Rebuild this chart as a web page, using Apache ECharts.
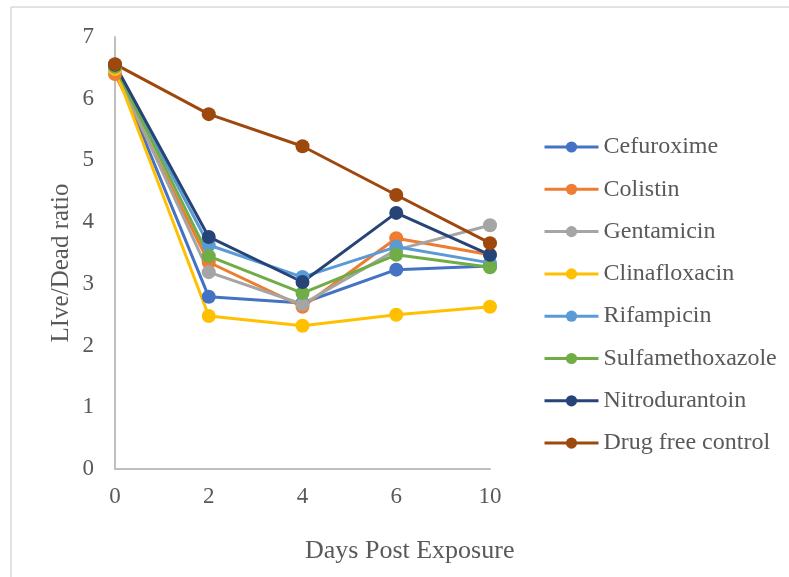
<!DOCTYPE html>
<html>
<head>
<meta charset="utf-8">
<script src="https://cdn.jsdelivr.net/npm/echarts@6/dist/echarts.min.js"></script>
<style>
  html, body { margin: 0; padding: 0; background: #ffffff; }
  #chart { width: 789px; height: 577px; }
</style>
</head>
<body>
<div id="chart"></div>
<script>
// Days post exposure (categories) and Live/Dead ratio per treatment
const days = ['0', '2', '4', '6', '10'];
const cefuroxime       = [6.50, 2.79, 2.69, 3.23, 3.29];
const colistin         = [6.40, 3.35, 2.63, 3.74, 3.47];
const gentamicin       = [6.48, 3.19, 2.67, 3.55, 3.95];
const clinafloxacin    = [6.48, 2.48, 2.32, 2.50, 2.63];
const rifampicin       = [6.52, 3.63, 3.11, 3.60, 3.34];
const sulfamethoxazole = [6.52, 3.45, 2.85, 3.47, 3.27];
const nitrodurantoin   = [6.55, 3.76, 3.03, 4.15, 3.47];
const drugFree         = [6.56, 5.75, 5.23, 4.44, 3.66];
const yTicks = [0, 1, 2, 3, 4, 5, 6, 7];

const seriesDefs = [
  ['Cefuroxime', cefuroxime, '#4472c4'],
  ['Colistin', colistin, '#ed7d31'],
  ['Gentamicin', gentamicin, '#a5a5a5'],
  ['Clinafloxacin', clinafloxacin, '#ffc000'],
  ['Rifampicin', rifampicin, '#5b9bd5'],
  ['Sulfamethoxazole', sulfamethoxazole, '#70ad47'],
  ['Nitrodurantoin', nitrodurantoin, '#264478'],
  ['Drug free control', drugFree, '#9e480e']
];

const font = 'Liberation Serif, Times New Roman, serif';
const textColor = '#595959';

const chart = echarts.init(document.getElementById('chart'));
chart.setOption({
  animation: false,
  backgroundColor: '#ffffff',
  grid: { left: 115, right: 299, top: 37, bottom: 108 },
  xAxis: {
    type: 'category',
    data: days,
    boundaryGap: false,
    axisLine: { lineStyle: { color: '#bfbfbf', width: 2 } },
    axisTick: { show: false },
    axisLabel: { color: textColor, fontFamily: font, fontSize: 23, margin: 16 },
    splitLine: { show: false }
  },
  yAxis: {
    type: 'value',
    min: yTicks[0],
    max: yTicks[yTicks.length - 1],
    interval: 1,
    axisLine: { show: true, lineStyle: { color: '#bfbfbf', width: 2 } },
    axisTick: { show: false },
    axisLabel: { color: textColor, fontFamily: font, fontSize: 23, margin: 21 },
    splitLine: { show: false }
  },
  legend: {
    orient: 'vertical',
    left: 543,
    top: 135,
    padding: 0,
    itemWidth: 54,
    itemHeight: 14,
    itemGap: 18.3,
    lineStyle: { width: 3 },
    textStyle: { color: textColor, fontFamily: font, fontSize: 24, lineHeight: 24 },
    data: seriesDefs.map(d => d[0])
  },
  graphic: [
    { type: 'line', shape: { x1: 11, y1: 7, x2: 789, y2: 7 }, style: { stroke: '#d9d9d9', lineWidth: 1.5 } },
    { type: 'line', shape: { x1: 11, y1: 7, x2: 11, y2: 577 }, style: { stroke: '#d9d9d9', lineWidth: 1.5 } },
    {
      type: 'text', x: 61, y: 263, rotation: Math.PI / 2,
      style: { text: 'LIve/Dead ratio', fill: textColor, font: '25px ' + font, align: 'center', verticalAlign: 'middle' }
    },
    {
      type: 'text', left: 305, top: 538,
      style: { text: 'Days Post Exposure', fill: textColor, font: '26px ' + font }
    }
  ],
  series: seriesDefs.map(([name, values, color]) => ({
    name: name,
    type: 'line',
    data: values,
    symbol: 'circle',
    symbolSize: 14,
    showSymbol: true,
    lineStyle: { color: color, width: 3 },
    itemStyle: { color: color },
    emphasis: { disabled: true }
  }))
});
</script>
</body>
</html>
